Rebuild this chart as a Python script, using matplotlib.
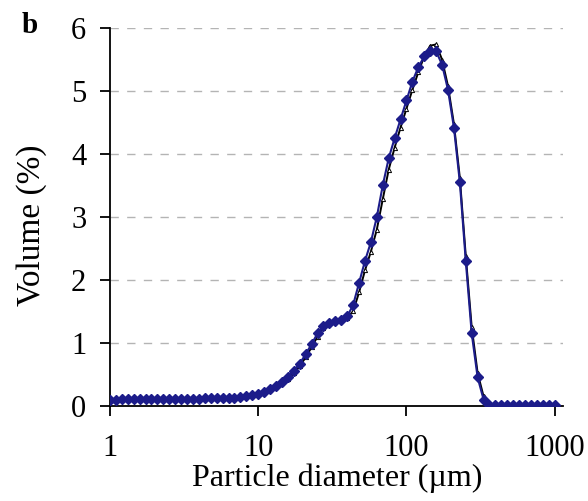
import numpy as np
import matplotlib.pyplot as plt

# size classes, 25 per decade from 1 to 1000 um
diameter = 10 ** (np.arange(76) / 25.0)

# measured distribution (diamonds)
vol_measured = [
    0.10, 0.10, 0.11, 0.11, 0.11, 0.11, 0.11, 0.11, 0.11, 0.11,
    0.11, 0.11, 0.11, 0.11, 0.11, 0.11, 0.12, 0.12, 0.12, 0.12,
    0.12, 0.13, 0.14, 0.15, 0.17, 0.19, 0.22, 0.27, 0.32, 0.38,
    0.46, 0.56, 0.67, 0.82, 0.98, 1.15, 1.26, 1.31, 1.34, 1.37,
    1.42, 1.60, 1.95, 2.30, 2.60, 3.00, 3.50, 3.93, 4.25, 4.55,
    4.85, 5.15, 5.38, 5.55, 5.64, 5.63, 5.42, 5.02, 4.42, 3.55,
    2.30, 1.15, 0.45, 0.10, 0.02, 0.02, 0.02, 0.02, 0.02, 0.02,
    0.02, 0.02, 0.02, 0.02, 0.02, 0.02,
]

# second run (black line)
vol_repeat = [
    0.10, 0.10, 0.11, 0.11, 0.11, 0.11, 0.11, 0.11, 0.11, 0.11,
    0.11, 0.11, 0.11, 0.11, 0.11, 0.11, 0.12, 0.12, 0.12, 0.12,
    0.12, 0.13, 0.14, 0.15, 0.16, 0.18, 0.21, 0.25, 0.30, 0.36,
    0.43, 0.52, 0.63, 0.77, 0.93, 1.10, 1.23, 1.30, 1.33, 1.36,
    1.40, 1.50, 1.80, 2.15, 2.45, 2.80, 3.28, 3.75, 4.10, 4.42,
    4.72, 5.02, 5.30, 5.55, 5.72, 5.74, 5.50, 5.08, 4.48, 3.62,
    2.38, 1.25, 0.52, 0.15, 0.03, 0.02, 0.02, 0.02, 0.02, 0.02,
    0.02, 0.02, 0.02, 0.02, 0.02, 0.02,
]

xticks = [1, 10, 100, 1000]
yticks = [0, 1, 2, 3, 4, 5, 6]

plt.rcParams['font.family'] = ['Liberation Serif', 'DejaVu Serif']

fig = plt.figure(figsize=(5.88, 5.01), dpi=100)
ax = fig.add_axes([0.187, 0.19, 0.770, 0.754])

for y in yticks[1:]:
    ax.axhline(y, color='#b4b4b4', lw=1.0, ls=(0, (6, 6)), zorder=0)

ax.plot(diameter, vol_repeat, color='black', lw=1.4, marker='^', ms=3,
        mfc='white', mec='black', mew=0.7, zorder=2)
ax.plot(diameter, vol_measured, color='#1c1c8a', lw=1.5, marker='D', ms=5.5,
        mfc='#1c1c8a', mec='#1c1c8a', zorder=3)

ax.set_xscale('log')
ax.set_xlim(1, 1132)
ax.set_ylim(0, 6)
ax.set_xticks(xticks)
ax.set_xticklabels([str(v) for v in xticks])
ax.xaxis.set_minor_locator(plt.NullLocator())
ax.set_yticks(yticks)

for s in ['top', 'right']:
    ax.spines[s].set_visible(False)
for s in ['left', 'bottom']:
    ax.spines[s].set_linewidth(1.3)

ax.tick_params(axis='both', direction='out', length=7, width=1.3,
               labelsize=22)
ax.tick_params(axis='x', pad=13)
ax.tick_params(axis='y', pad=10)
ax.set_xlabel('Particle diameter (\u00b5m)', fontsize=23)
ax.set_ylabel('Volume (%)', fontsize=24)
ax.xaxis.set_label_coords(0.501, -0.152)
ax.yaxis.set_label_coords(-0.138, 0.479)

fig.text(0.037, 0.935, 'b', fontsize=21, fontweight='bold')

fig.savefig('out.png', dpi=100)
